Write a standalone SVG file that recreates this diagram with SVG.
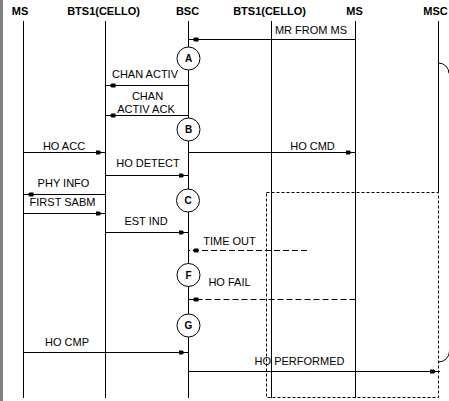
<svg xmlns="http://www.w3.org/2000/svg" width="449" height="401" viewBox="0 0 449 401">
<style>
  .hdr { font-family: "Liberation Sans", Arial, sans-serif; font-size: 11px; font-weight: bold; text-anchor: middle; fill: #000; }
  .lbl { font-family: "Liberation Sans", Arial, sans-serif; font-size: 11px; text-anchor: middle; fill: #000; }
  .cl { font-family: "Liberation Sans", Arial, sans-serif; font-size: 10px; font-weight: bold; text-anchor: middle; fill: #000; }
  .life { stroke: #000; stroke-width: 1; fill: none; }
  .msg { stroke: #000; stroke-width: 1; fill: none; marker-end: url(#ah); }
  .dmsg { stroke: #000; stroke-width: 1; fill: none; stroke-dasharray: 6 3; marker-end: url(#ah); }
  .circ { fill: #fff; stroke: #000; stroke-width: 1; }
  .box { fill: none; stroke: #000; stroke-width: 1; stroke-dasharray: 3 2; }
</style>
<defs>
  <marker id="ah" markerUnits="userSpaceOnUse" markerWidth="12" markerHeight="8" viewBox="0 -4 12 8" refX="10" refY="0" orient="auto">
    <path d="M0,-2 H4 L6,0 L4,2 H0 Z" fill="#000"/>
  </marker>
</defs>
<rect x="0" y="0" width="449" height="401" fill="#fff"/>
<rect x="0" y="0" width="3" height="401" fill="#808080"/>

<g id="lifelines">
  <g id="ms1">
    <text class="hdr" x="20" y="15">MS</text>
    <line class="life" x1="23.5" y1="21" x2="23.5" y2="398"/>
  </g>
  <g id="bts1">
    <text class="hdr" x="103.5" y="15">BTS1(CELLO)</text>
    <line class="life" x1="105.5" y1="21" x2="105.5" y2="398"/>
  </g>
  <g id="bsc">
    <text class="hdr" x="187.5" y="15">BSC</text>
    <line class="life" x1="188.5" y1="21" x2="188.5" y2="398"/>
  </g>
  <g id="bts2">
    <text class="hdr" x="269.5" y="15">BTS1(CELLO)</text>
    <line class="life" x1="271.5" y1="21" x2="271.5" y2="398"/>
  </g>
  <g id="ms2">
    <text class="hdr" x="354.5" y="15">MS</text>
    <line class="life" x1="355.5" y1="21" x2="355.5" y2="398"/>
  </g>
  <g id="msc">
    <text class="hdr" x="435.5" y="15">MSC</text>
    <line class="life" x1="438.5" y1="21" x2="438.5" y2="192"/>
    <path class="life" d="M438.5,63 A10.5,10.5 0 0 1 449,73.5"/>
    <path class="life" d="M438.5,362 A11,11 0 0 0 449.5,351"/>
  </g>
</g>

<g id="timer-box">
  <rect class="box" x="266.5" y="192.5" width="172" height="205"/>
</g>

<g id="connectors">
  <line class="msg" x1="355.5" y1="39.5" x2="188.5" y2="39.5"/>
  <text class="lbl" x="311" y="34">MR FROM MS</text>

  <line class="msg" x1="188.5" y1="85.5" x2="105.5" y2="85.5"/>
  <text class="lbl" x="145" y="78">CHAN ACTIV</text>

  <line class="msg" x1="188.5" y1="115.5" x2="105.5" y2="115.5"/>
  <text class="lbl" x="147.5" y="99.5">CHAN</text>
  <text class="lbl" x="146" y="113">ACTIV ACK</text>

  <line class="msg" x1="23.5" y1="152.5" x2="105.5" y2="152.5"/>
  <text class="lbl" x="64" y="149.5">HO ACC</text>

  <line class="msg" x1="188.5" y1="152.5" x2="355.5" y2="152.5"/>
  <text class="lbl" x="312.5" y="149.5">HO CMD</text>

  <line class="msg" x1="105.5" y1="175.5" x2="188.5" y2="175.5"/>
  <text class="lbl" x="148" y="167">HO DETECT</text>

  <line class="msg" x1="105.5" y1="194.5" x2="23.5" y2="194.5"/>
  <text class="lbl" x="63.5" y="187">PHY INFO</text>

  <line class="msg" x1="23.5" y1="213.5" x2="105.5" y2="213.5"/>
  <text class="lbl" x="62.5" y="206">FIRST SABM</text>

  <line class="msg" x1="105.5" y1="232.5" x2="188.5" y2="232.5"/>
  <text class="lbl" x="146" y="225">EST IND</text>

  <line class="dmsg" x1="307" y1="250.5" x2="188.5" y2="250.5"/>
  <text class="lbl" x="229.5" y="244.5">TIME OUT</text>

  <line class="dmsg" x1="355.5" y1="299.5" x2="188.5" y2="299.5"/>
  <text class="lbl" x="229.5" y="286">HO FAIL</text>

  <line class="msg" x1="23.5" y1="352.5" x2="188.5" y2="352.5"/>
  <text class="lbl" x="67" y="346">HO CMP</text>

  <line class="msg" x1="188.5" y1="371.5" x2="440" y2="371.5"/>
  <text class="lbl" x="299.5" y="364.5">HO PERFORMED</text>
</g>

<g id="state-A">
  <circle class="circ" cx="188.5" cy="58.5" r="11.5"/>
  <text class="cl" x="188.5" y="62">A</text>
</g>
<g id="state-B">
  <circle class="circ" cx="188.5" cy="129.5" r="11.5"/>
  <text class="cl" x="188.5" y="133">B</text>
</g>
<g id="state-C">
  <circle class="circ" cx="188" cy="200.5" r="11.5"/>
  <text class="cl" x="188" y="204">C</text>
</g>
<g id="state-F">
  <circle class="circ" cx="188.5" cy="275" r="11.5"/>
  <text class="cl" x="188.5" y="278.5">F</text>
</g>
<g id="state-G">
  <circle class="circ" cx="188.5" cy="325.5" r="11.5"/>
  <text class="cl" x="188.5" y="329">G</text>
</g>
</svg>
